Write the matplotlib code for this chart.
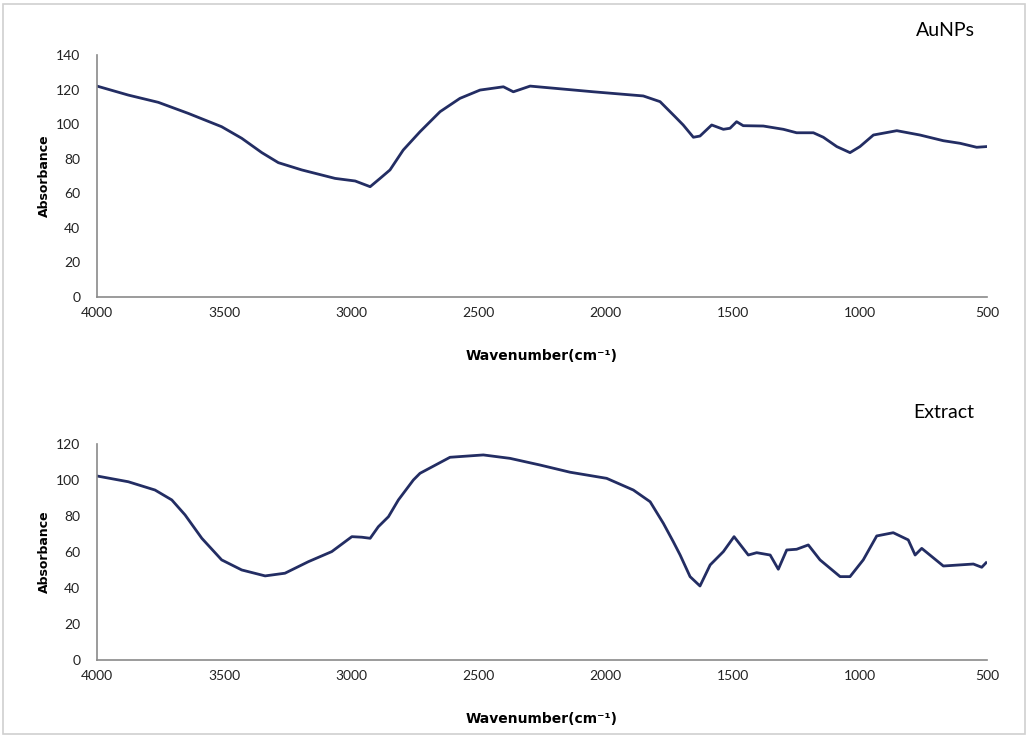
import matplotlib
matplotlib.use("Agg")
import matplotlib.pyplot as plt
from matplotlib.patches import Rectangle

plt.rcParams['font.family'] = ['Lato', 'DejaVu Sans']

# AuNPs spectrum (wavenumber, absorbance)
au_wn = [4000, 3877, 3759, 3641, 3510, 3431, 3352, 3287, 3195, 3064, 2985, 2926,
         2887, 2848, 2796, 2730, 2651, 2573, 2494, 2402, 2363, 2297, 2048, 1852,
         1786, 1727, 1695, 1655, 1629, 1583, 1537, 1511, 1485, 1459, 1380, 1301,
         1249, 1183, 1144, 1091, 1039, 1000, 947, 855, 764, 672, 606, 541, 502]
au_abs = [122, 116.8, 112.6, 106.2, 98.5, 91.8, 83.5, 77.7, 73.5, 68.6, 67.1, 63.8,
          68.6, 73.5, 85, 95.6, 107.2, 114.9, 119.7, 121.6, 118.7, 122, 118.7, 116.3,
          113, 104.3, 99.5, 92.4, 93.1, 99.5, 97, 97.6, 101.4, 99.1, 98.9, 97,
          95, 95, 92.4, 87, 83.5, 87, 93.7, 96.2, 93.7, 90.4, 88.9, 86.6, 87]

# Extract spectrum
ex_wn = [4000, 3877, 3772, 3706, 3654, 3588, 3510, 3431, 3339, 3261, 3169, 3077,
         2998, 2959, 2926, 2894, 2854, 2815, 2756, 2730, 2612, 2481, 2376, 2258,
         2140, 1996, 1891, 1825, 1773, 1734, 1707, 1668, 1629, 1589, 1537, 1495,
         1439, 1406, 1353, 1321, 1288, 1249, 1203, 1157, 1078, 1039, 987, 934,
         869, 810, 783, 757, 672, 554, 521, 504]
ex_abs = [102.2, 99, 94.4, 88.9, 80.6, 67.6, 55.6, 50, 46.7, 48.2, 54.6, 60.2,
          68.5, 68.2, 67.6, 74, 79.6, 88.9, 100, 103.7, 112.6, 113.9, 112, 108.3,
          104.3, 100.9, 94.4, 87.9, 75.9, 65.7, 58.3, 46.3, 41.1, 52.8, 60.2, 68.5,
          58.3, 59.6, 58.3, 50.4, 61.1, 61.5, 63.9, 55.6, 46.3, 46.3, 55.6, 68.9,
          70.7, 66.7, 58.3, 62, 52.2, 53.3, 51.5, 54]

x_ticks = [4000, 3500, 3000, 2500, 2000, 1500, 1000, 500]
top_yticks = [0, 20, 40, 60, 80, 100, 120, 140]
bot_yticks = [0, 20, 40, 60, 80, 100, 120]

line_col = '#232d63'

fig = plt.figure(figsize=(10.28, 7.36), dpi=100)
fig.patches.append(Rectangle((0.003, 0.003), 0.994, 0.992, transform=fig.transFigure,
                             fill=False, edgecolor='#d0d0d0', linewidth=1.2))

ax1 = fig.add_axes([0.0944, 0.5965, 0.8658, 0.3288])
ax2 = fig.add_axes([0.0944, 0.1033, 0.8658, 0.2935])

panels = [(ax1, au_wn, au_abs, top_yticks, 'AuNPs', 0.958),
          (ax2, ex_wn, ex_abs, bot_yticks, 'Extract', 0.44)]

for ax, wn, ab, yt, name, ty in panels:
    ax.plot(wn, ab, color=line_col, linewidth=2, solid_joinstyle='round')
    ax.set_xlim(4000, 500)
    ax.set_ylim(yt[0], yt[-1])
    ax.set_xticks(x_ticks)
    ax.set_yticks(yt)
    ax.tick_params(length=0, labelsize=10, colors='#222222')
    ax.tick_params(axis='y', pad=12)
    ax.tick_params(axis='x', pad=7)
    for s in ['top', 'right']:
        ax.spines[s].set_visible(False)
    for s in ['left', 'bottom']:
        ax.spines[s].set_color('#8a8a8a')
        ax.spines[s].set_linewidth(1.2)
    ax.set_xlabel('Wavenumber(cm⁻¹)', fontsize=10, fontweight='bold',
                  family='DejaVu Sans', labelpad=22)
    ax.set_ylabel('Absorbance', fontsize=9, fontweight='bold',
                  family='DejaVu Sans', labelpad=4)
    fig.text(0.948, ty, name, fontsize=14, ha='right', va='center')

fig.savefig('out.png', dpi=100)
